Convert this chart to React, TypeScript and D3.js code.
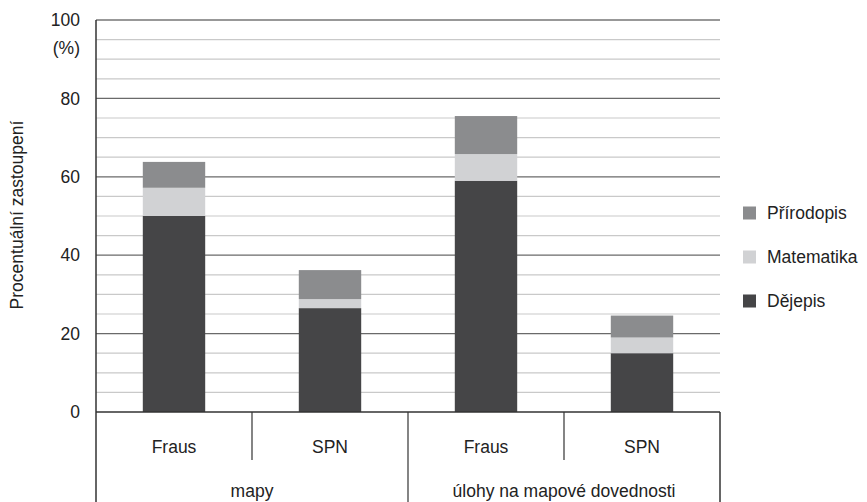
import React from "react";
import * as d3 from "d3";

const subCategories = ["Fraus", "SPN", "Fraus", "SPN"];
const groups = ["mapy", "úlohy na mapové dovednosti"];
const series = ["Dějepis", "Matematika", "Přírodopis"];
const dejepis = [50, 26.5, 59, 15];
const matematika = [7.2, 2.3, 6.8, 4];
const prirodopis = [6.6, 7.4, 9.7, 5.6];
const yTicks = [0, 20, 40, 60, 80, 100];
const colors = ["#454547", "#d1d2d4", "#8b8c8e"];
const legendOrder = ["Přírodopis", "Matematika", "Dějepis"];

export default function App() {
  const W = 867, H = 502;
  const left = 96, right = 720, top = 20, bottom = 412;
  const font = "'Liberation Sans', Arial, Helvetica, sans-serif";
  const fs = 17.5;
  const y = d3.scaleLinear().domain([0, 100]).range([bottom, top]);
  const x = d3.scaleBand().domain(d3.range(4).map(String)).range([left, right]).paddingInner(0).paddingOuter(0);
  const bw = x.bandwidth() * 0.4;
  const rows = subCategories.map((c, i) => ({ key: String(i), Dějepis: dejepis[i], Matematika: matematika[i], Přírodopis: prirodopis[i] }));
  const stacked = d3.stack<any>().keys(series)(rows);
  const grid = d3.range(5, 100, 5);
  const groupW = (right - left) / groups.length;
  return (
    <svg width={W} height={H} style={{ position: "absolute", left: 0, top: 0, background: "#fff" }} fontFamily={font}>
      {grid.map((v) => (
        <line key={v} x1={left} x2={right} y1={y(v)} y2={y(v)} stroke={v % 20 === 0 ? "#6a6a6a" : "#c9c9c9"} strokeWidth={1.2} />
      ))}
      <line x1={left} x2={right} y1={y(100)} y2={y(100)} stroke="#333" strokeWidth={1.2} />
      {stacked.map((s, si) =>
        s.map((d, i) => (
          <rect key={si + "-" + i} x={(x(String(i)) as number) + (x.bandwidth() - bw) / 2} width={bw} y={y(d[1])} height={y(d[0]) - y(d[1])} fill={colors[si]} />
        ))
      )}
      <line x1={left} x2={right} y1={bottom} y2={bottom} stroke="#333" strokeWidth={1.5} />
      <line x1={left} x2={left} y1={top} y2={H} stroke="#333" strokeWidth={1.5} />
      <line x1={right} x2={right} y1={bottom} y2={H} stroke="#333" strokeWidth={1.5} />
      {[1, 3].map((i) => (
        <line key={i} x1={x(String(i))} x2={x(String(i))} y1={bottom} y2={460} stroke="#333" strokeWidth={1.2} />
      ))}
      <line x1={left + groupW} x2={left + groupW} y1={bottom} y2={H} stroke="#333" strokeWidth={1.2} />
      {yTicks.map((t) => (
        <text key={t} x={80} y={y(t)} dy="0.35em" textAnchor="end" fontSize={fs} fill="#222">{t}</text>
      ))}
      <text x={80} y={48} dy="0.35em" textAnchor="end" fontSize={fs} fill="#222">(%)</text>
      <text transform={`translate(17,${215}) rotate(-90)`} textAnchor="middle" dy="0.35em" fontSize={fs} fill="#222">Procentuální zastoupení</text>
      {subCategories.map((c, i) => (
        <text key={i} x={(x(String(i)) as number) + x.bandwidth() / 2} y={447} dy="0.35em" textAnchor="middle" fontSize={fs} fill="#222">{c}</text>
      ))}
      {groups.map((g, i) => (
        <text key={g} x={left + groupW * i + groupW / 2} y={491} dy="0.35em" textAnchor="middle" fontSize={fs} fill="#222">{g}</text>
      ))}
      {legendOrder.map((name, i) => (
        <g key={name} transform={`translate(743,${213 + i * 44})`}>
          <rect x={0} y={-6.5} width={13} height={13} fill={colors[series.indexOf(name)]} />
          <text x={24} y={0} dy="0.35em" fontSize={fs} fill="#222">{name}</text>
        </g>
      ))}
    </svg>
  );
}
